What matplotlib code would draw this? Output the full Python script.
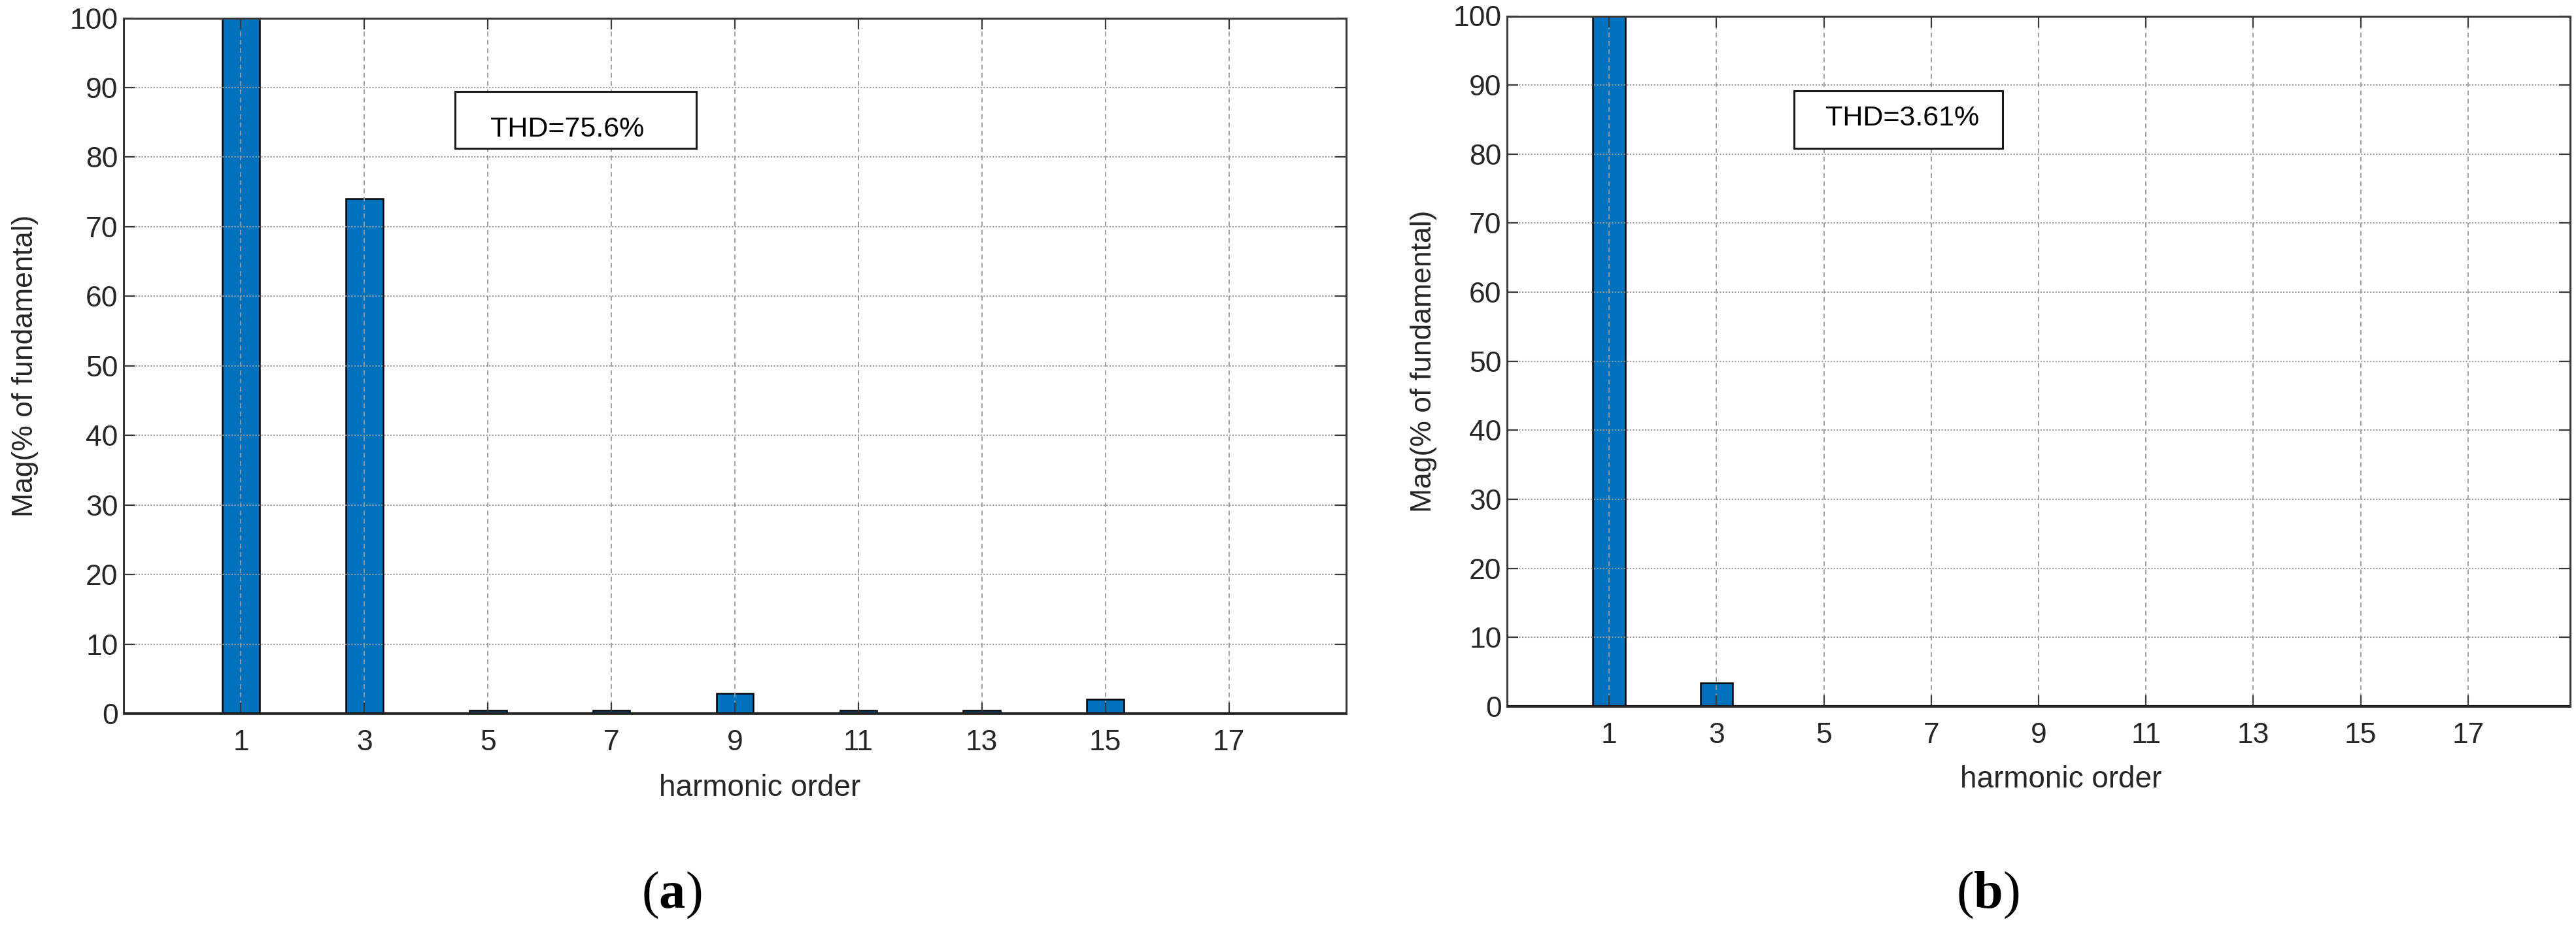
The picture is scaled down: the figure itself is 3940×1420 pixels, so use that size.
import matplotlib
matplotlib.use("Agg")
import matplotlib.pyplot as plt
from matplotlib.patches import Rectangle

# ---- data ----
harmonic_order = [1, 3, 5, 7, 9, 11, 13, 15, 17]
mag_a = [100, 74.0, 0.5, 0.5, 2.95, 0.5, 0.5, 2.05, 0.1]
mag_b = [100, 3.4, 0.05, 0.05, 0.05, 0.05, 0.05, 0.05, 0.05]
yticks = [0, 10, 20, 30, 40, 50, 60, 70, 80, 90, 100]
thd_a = "THD=75.6%"
thd_b = "THD=3.61%"
xlabel = "harmonic order"
ylabel = "Mag(% of fundamental)"

plt.rcParams['font.family'] = ['Liberation Sans', 'DejaVu Sans']
plt.rcParams['mathtext.fontset'] = 'custom'
plt.rcParams['mathtext.rm'] = 'Liberation Serif'
plt.rcParams['mathtext.bf'] = 'Liberation Serif:bold'

W, H = 3941, 1420
fig = plt.figure(figsize=(W / 100, H / 100), dpi=100)

BAR = '#0072BD'
SPINE = '#3a3a3a'


def make_panel(rect, values, thd, box, txt, ylab_x, xlab_xy):
    ax = fig.add_axes(rect)
    ax.bar(harmonic_order, values, width=0.6, color=BAR, edgecolor='black',
           linewidth=1.8, zorder=1)
    ax.set_xlim(-0.9, 18.9)
    ax.set_ylim(0, 100)
    ax.set_xticks(harmonic_order)
    ax.set_xticklabels([str(h) for h in harmonic_order])
    ax.set_yticks(yticks)
    ax.tick_params(direction='in', top=True, right=True, length=12, width=1.6,
                   color=SPINE, labelsize=32, labelcolor='#262626')
    ax.tick_params(axis='x', pad=17)
    ax.tick_params(axis='y', pad=6)
    ax.yaxis.grid(True, linestyle=(0, (1, 1.2)), color='#9a9a9a', linewidth=1.5)
    ax.xaxis.grid(True, linestyle=(0, (4, 3)), color='#9a9a9a', linewidth=1.3)
    for s in ax.spines.values():
        s.set_color(SPINE)
        s.set_linewidth(2.2)
    ax.axhline(0, color='#1a1a1a', linewidth=3, zorder=3)
    ax.set_ylabel(ylabel, fontsize=32, color='#262626', va='center')
    ax.yaxis.set_label_coords(ylab_x, 0.5)
    ax.set_xlabel(xlabel, fontsize=33, color='#262626', va='baseline')
    ax.xaxis.set_label_coords(*xlab_xy)
    bx0, by0, bx1, by1 = box
    ax.add_patch(Rectangle((bx0, by0), bx1 - bx0, by1 - by0, transform=ax.transAxes,
                           facecolor='white', edgecolor='#1a1a1a', linewidth=2.2,
                           zorder=5, clip_on=False))
    ax.text(txt[0], txt[1], thd, transform=ax.transAxes, fontsize=31,
            ha='left', va='center', color='black', zorder=6)
    return ax


# left panel: axes px x 189-2059, y 27.5-1092
axL = make_panel([189 / W, 1 - 1092 / H, (2059 - 189) / W, (1092 - 27.5) / H],
                 mag_a, thd_a,
                 (0.2711, 0.8126, 0.4684, 0.8943), (0.300, 0.8398),
                 -0.0807, (0.5203, -0.1184))
# right panel: axes px x 2305-3931, y 24.5-1081
axR = make_panel([2305 / W, 1 - 1081 / H, (3931 - 2305) / W, (1081 - 24.5) / H],
                 mag_b, thd_b,
                 (0.2700, 0.8083, 0.4662, 0.8916), (0.2995, 0.8514),
                 -0.0787, (0.5209, -0.1174))

fig.text(1027 / W, 1 - 1370 / H, r'$(\mathbf{a})$', fontsize=58, ha='center', va='center')
fig.text(3040 / W, 1 - 1370 / H, r'$(\mathbf{b})$', fontsize=58, ha='center', va='center')

fig.savefig('out.png', dpi=100)
